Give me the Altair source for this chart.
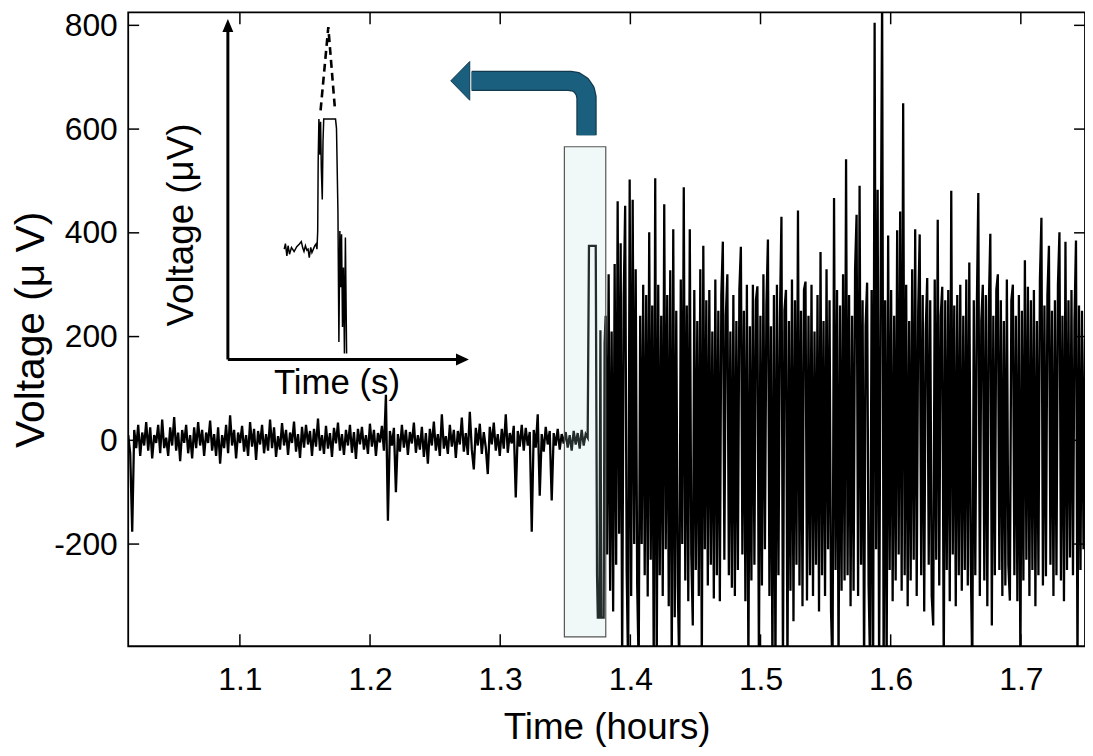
import numpy as np
import pandas as pd
import altair as alt

# ---------------- data ----------------
X_TICKS = [1.1, 1.2, 1.3, 1.4, 1.5, 1.6, 1.7]
Y_TICKS = [-200, 0, 200, 400, 600, 800]
X_DOMAIN = [1.0142, 1.7493]
Y_DOMAIN = [-397, 825]

# quiet baseline, 1.0142 h -> 1.3672 h (uniformly sampled)
base_start, base_end = 1.0142, 1.3672
baseline_uv = [
    10, -25, -176, 20, -15, 30, -30, 15, -10, 35, -20, 25, -35, 10, -5, 30, -25, 40, -15, 5,
    -30, 25, -10, 45, -20, 15, -40, 20, -5, 30, -25, 10, -35, 25, -15, 35, -10, 20, -30, 15,
    -5, 38, -20, 12, -30, 25, -45, 10, -15, 30, -25, 48, -10, 20, -35, 15, -5, 28, -22, 10,
    -30, 35, -12, 22, -38, 18, -8, 30, -25, 12, -20, 40, -15, 25, -32, 8, -18, 33, -10, 20,
    -28, 15, -5, 36, -22, 12, -34, 26, -14, 30, -8, 18, -30, 22, -12, 42, -20, 10, -26, 28,
    -16, 14, -32, 24, -6, 34, -20, 12, -28, 20, -10, 30, -24, 16, -36, 22, -8, 26, -18, 10,
    -26, 32, -12, 20, -30, 14, -4, 28, -20, 88, -155, 18, -10, 24, -100, 12, -22, 30, -14, 20,
    -28, 16, -6, 34, -24, 10, -18, 26, -32, 14, -45, 22, -10, 36, -20, 12, -30, 50, -16, 8,
    -26, 30, -12, 20, -34, 18, -8, 44, -22, 14, -28, 55, -18, -56, 24, -10, 32, -26, 16, -14,
    -65, 26, -8, 34, -20, 12, -30, 22, -16, 50, -24, 14, -6, 28, -110, 18, -12, 30, -20, 24,
    -10, 16, -176, 20, -14, 50, -107, 12, -22, 26, -8, 18, -116, 14, -10, 22, -18, 12, -6, 16,
    -14, 10, -20, 18, -8, 14, -16, 20, -10, 12, 5,
]

# the seizure-onset pulse inside the highlighted window
event_t = [1.3682, 1.3734, 1.3739, 1.3744, 1.3750, 1.3762, 1.3770, 1.3776, 1.3795, 1.3802]
event_uv = [375, 375, 46, -260, -342, -342, 212, -342, -342, 187]

# dense burst, 1.3810 h -> 1.7493 h (uniformly sampled)
burst_start, burst_end = 1.3810, 1.7493
burst_uv = [
    240, -220, 320, -290, 210, -330, 340, -240, 461, -180, 380, -440, 270, 452, -250, -450, 503, -300, 464, -200,
    330, -280, -440, 240, -200, 300, -260, 280, -301, 401, -230, 260, -440, 505, -445, 300, -260, 240, -300, 455,
    -210, 280, -320, 328, -450, 407, -341, 250, -280, -440, 310, -200, 488, -270, 260, -310, 407, -220, -357, 290,
    -250, 230, -300, 330, -440, 375, -210, 270, -280, 290, -240, 210, -305, 310, -260, 250, -310, 280, 383, -230,
    240, 320, -260, 210, -284, 280, -300, 230, -250, 290, 373, -220, 250, -310, 300, -450, 220, -270, 300, -240,
    270, 297, -440, 240, -280, 320, -210, 260, 387, -300, 220, -445, 280, -450, 300, -260, 240, 431, -440, 250,
    290, -450, 230, -290, 310, -349, 270, -240, 443, -280, 250, -320, 290, 306, -309, 240, -260, 300, -300, 210,
    -240, 280, -330, 363, -260, 230, -300, 330, -210, 270, -330, -450, 467, -250, 290, -440, 260, -290, 320, -270,
    542, -260, 280, -320, 240, -290, 330, 435, -300, 491, -240, 270, -450, 220, 304, -280, -440, 290, -460, 805,
    -210, 483, -450, 280, 860, -460, 270, -440, 395, -250, 290, -310, 240, -270, 405, -220, 441, -290, 650, -260,
    300, -320, 230, -270, 330, -230, 407, -300, 250, 397, -260, 280, -330, 210, 313, -240, 270, -300, -357, 310,
    -230, 425, -280, 240, 296, -450, 270, -250, 290, -310, 481, -220, 260, -320, 280, -260, 300, -290, 240, -250,
    310, -280, 343, -240, -450, 270, -260, 250, 477, -300, 230, 300, -270, 280, -320, 260, 398, -357, 240, -260,
    290, 320, -250, 270, -300, 230, -280, 310, -240, -309, 270, 300, -260, 240, -310, 280, -450, 250, -270, 347,
    -230, 296, -300, 270, -250, 290, -320, 230, -260, 310, 429, -280, 260, -262, 280, 375, -240, 250, -300, 270,
    -260, 300, 401, -270, 240, -310, 383, -250, 270, -226, 290, -260, 230, 385, -450, 260, -250, 250, -210, 196,
]

# highlighted window
box_t = [1.3493, 1.3811]
box_uv = [-379, 566]

# bent call-out arrow (centre line, data units)
arrow_t = [1.3663, 1.3663, 1.3653, 1.3624, 1.3582, 1.3533, 1.2780]
arrow_uv = [588, 661, 673, 684, 691, 693, 693]
arrow_head_t = [1.2693]
arrow_head_uv = [693]

# inset (arbitrary units 0-100 on both axes)
inset_x = [23.4, 23.9, 24.5, 25.0, 25.6, 26.4, 27.5, 28.6, 29.7, 30.5, 31.1, 31.6, 32.2, 32.8, 33.3,
           33.8, 34.4, 34.9, 35.5, 36.1, 36.6, 37.0, 37.3, 37.5, 37.8, 38.2, 38.5, 38.8, 39.2, 39.5,
           39.8, 44.7, 45.1, 45.7, 46.1, 46.5, 46.9, 47.2, 47.6, 48.0, 48.4, 48.8, 49.3]
inset_y = [32.4, 34.0, 30.4, 33.4, 30.9, 32.9, 31.7, 33.1, 33.9, 34.6, 32.7, 31.7, 33.4, 32.1, 32.4,
           29.9, 32.9, 31.4, 32.4, 33.4, 33.9, 32.4, 37.7, 58.2, 70.6, 60.1, 69.8, 56.2, 47.0, 64.0,
           70.6, 70.6, 67.9, 43.6, 5.1, 37.7, 21.2, 36.8, 9.5, 27.0, 1.75, 35.8, 1.75]
dash_x = [38.5, 41.7, 44.5]
dash_y = [73.2, 97.6, 73.2]
inset_labels = ["Voltage (\u03bcV)", "Time (s)"]
inset_label_x = [-19.0, 45.3]
inset_label_y = [39.5, -10.1]

# ---------------- tables ----------------
t_all = list(np.linspace(base_start, base_end, len(baseline_uv))) + event_t + \
    list(np.linspace(burst_start, burst_end, len(burst_uv)))
v_all = baseline_uv + event_uv + burst_uv
sig = pd.DataFrame({"t": t_all, "v": v_all, "k": range(len(v_all))})

box = pd.DataFrame({"t0": [box_t[0]], "t1": [box_t[1]], "v0": [box_uv[0]], "v1": [box_uv[1]]})
arrow = pd.DataFrame({"t": arrow_t, "v": arrow_uv, "k": range(len(arrow_t))})
head = pd.DataFrame({"t": arrow_head_t, "v": arrow_head_uv})
xt = pd.DataFrame({"xt": X_TICKS})
yt = pd.DataFrame({"yt": Y_TICKS})

W, H = 963, 638
FONT = "Liberation Sans"

xscale = alt.Scale(domain=X_DOMAIN, nice=False, zero=False)
yscale = alt.Scale(domain=Y_DOMAIN, nice=False, zero=False)
xaxis = alt.Axis(values=X_TICKS, labelExpr="format(datum.value, '.1f')", ticks=False, tickSize=0,
                 domain=False, grid=False, labelFontSize=32, labelPadding=19,
                 title="Time (hours)", titleFontSize=37, titlePadding=14)
yaxis = alt.Axis(values=Y_TICKS, labelExpr="'' + datum.value", ticks=False, tickSize=0,
                 domain=False, grid=False, labelFontSize=32, labelPadding=11,
                 title="Voltage (\u03bc V)", titleFontSize=41, titlePadding=1)


def X(f):
    return alt.X(f, type="quantitative", scale=xscale, axis=xaxis)


def Y(f):
    return alt.Y(f, type="quantitative", scale=yscale, axis=yaxis)


signal = alt.Chart(sig).mark_line(color="black", strokeWidth=2.3, clip=True,
                                  strokeJoin="miter").encode(
    x=X("t"), y=Y("v"), order="k:Q")

window = alt.Chart(box).mark_rect(fill="#b4dcdc", fillOpacity=0.2, stroke="#555555",
                                  strokeWidth=1.2, strokeOpacity=1).encode(
    x=X("t0"), x2="t1", y=Y("v0"), y2="v1")

arrow_edge = alt.Chart(arrow).mark_line(color="#123a4e", strokeWidth=20.5, strokeCap="butt",
                                        strokeJoin="round").encode(x=X("t"), y=Y("v"), order="k:Q")
arrow_body = alt.Chart(arrow).mark_line(color="#1b5f7f", strokeWidth=18, strokeCap="butt",
                                        strokeJoin="round").encode(x=X("t"), y=Y("v"), order="k:Q")
arrow_tip = alt.Chart(head).mark_point(shape="M -0.49 0 L 0.49 -1 L 0.49 1 Z", size=1521, filled=True,
                                       fill="#1b5f7f", stroke="#123a4e", strokeWidth=1,
                                       opacity=1).encode(x=X("t"), y=Y("v"))

tick_b = alt.Chart(xt).mark_rule(color="black", strokeWidth=1.5).encode(
    x=X("xt"), y=alt.value(H), y2=alt.value(H - 12))
tick_t = alt.Chart(xt).mark_rule(color="black", strokeWidth=1.5).encode(
    x=X("xt"), y=alt.value(0), y2=alt.value(12))
tick_l = alt.Chart(yt).mark_rule(color="black", strokeWidth=1.5).encode(
    y=Y("yt"), x=alt.value(0), x2=alt.value(11))
tick_r = alt.Chart(yt).mark_rule(color="black", strokeWidth=1.5).encode(
    y=Y("yt"), x=alt.value(W), x2=alt.value(W - 11))

main = alt.layer(signal, window, arrow_edge, arrow_body, arrow_tip, tick_b, tick_t, tick_l, tick_r)

# ---------------- inset ----------------
sx = alt.Scale(domain=[0, 100], range=[100.3, 342.7], nice=False, zero=False)
sy = alt.Scale(domain=[0, 100], range=[349.3, 6.7], nice=False, zero=False)


def IX(f):
    return alt.X(f, type="quantitative", scale=sx, axis=None)


def IY(f):
    return alt.Y(f, type="quantitative", scale=sy, axis=None)


itrace = pd.DataFrame({"xi": inset_x, "yi": inset_y, "k": range(len(inset_x))})
idash = pd.DataFrame({"xi": dash_x, "yi": dash_y, "k": range(len(dash_x))})
iaxes = pd.DataFrame({"xi": [0, 0], "yi": [0, 0], "xe": [0, 96.5], "ye": [96.5, 0]})
ihead_up = pd.DataFrame({"xi": [0], "yi": [98.1]})
ihead_rt = pd.DataFrame({"xi": [97.4], "yi": [0]})
itext = pd.DataFrame({"xi": inset_label_x, "yi": inset_label_y, "txt": inset_labels})

in_trace = alt.Chart(itrace).mark_line(color="black", strokeWidth=1.5).encode(
    x=IX("xi"), y=IY("yi"), order="k:Q")
in_dash = alt.Chart(idash).mark_line(color="black", strokeWidth=2.6, strokeDash=[8, 5]).encode(
    x=IX("xi"), y=IY("yi"), order="k:Q")
in_axes = alt.Chart(iaxes).mark_rule(color="black", strokeWidth=3).encode(
    x=IX("xi"), y=IY("yi"), x2="xe", y2="ye")
in_up = alt.Chart(ihead_up).mark_point(shape="M 0 -1 L 0.846 1 L -0.846 1 Z", size=169, filled=True,
                                       fill="black", opacity=1).encode(x=IX("xi"), y=IY("yi"))
in_rt = alt.Chart(ihead_rt).mark_point(shape="M 1 0 L -1 -0.923 L -1 0.923 Z", size=169, filled=True,
                                       fill="black", opacity=1).encode(x=IX("xi"), y=IY("yi"))
in_vlab = alt.Chart(itext.iloc[[0]]).mark_text(font=FONT, fontSize=37, angle=270, align="center",
                                                baseline="middle", color="black").encode(
    x=IX("xi"), y=IY("yi"), text="txt:N")
in_tlab = alt.Chart(itext.iloc[[1]]).mark_text(font=FONT, fontSize=35, align="center",
                                                baseline="alphabetic", color="black").encode(
    x=IX("xi"), y=IY("yi"), text="txt:N")

inset = alt.layer(in_trace, in_dash, in_axes, in_up, in_rt, in_vlab, in_tlab)

chart = alt.layer(main, inset).resolve_scale(x="independent", y="independent").properties(
    width=W, height=H,
    autosize=alt.AutoSizeParams(type="none"),
    padding={"left": 121, "top": 2, "right": 0, "bottom": 100},
).configure_view(stroke="black", strokeWidth=1.8).configure_axis(
    labelFont=FONT, titleFont=FONT, labelColor="black", titleColor="black",
    titleFontWeight="normal",
)

chart.save("out.html", embed_options={"renderer": "svg", "actions": False})
